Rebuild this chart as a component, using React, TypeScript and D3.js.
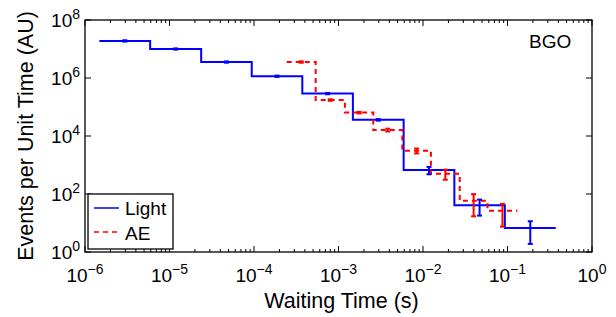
import { useEffect, useRef } from "react";
import * as d3 from "d3";

// bin edges (s) and values
const lightEdges = [1.48e-6, 5.9e-6, 2.37e-5, 9.4e-5, 3.73e-4, 1.48e-3, 5.9e-3, 2.35e-2, 9.3e-2, 0.372];
const lightValues = [1.9e7, 1.0e7, 3.55e6, 1.15e6, 2.9e5, 3.6e4, 670, 41, 6.7];
const lightErrors = [1.0e6, 5e5, 1.8e5, 6e4, 1.5e4, 2.2e3, 190, 23, 4.8];

const aeEdges = [2.44e-4, 5.37e-4, 1.19e-3, 2.58e-3, 5.69e-3, 1.24e-2, 2.72e-2, 5.8e-2, 0.131];
const aeValues = [3.56e6, 1.74e5, 6.4e4, 1.61e4, 3.1e3, 500, 58, 26.5];
const aeErrors = [2e5, 1e4, 4e3, 1.8e3, 600, 190, 41, 19];

const xTickExps = [-6, -5, -4, -3, -2, -1, 0];
const yTickExps = [0, 2, 4, 6, 8];

const FONT = "Liberation Sans, Arial, Helvetica, sans-serif";

export default function App() {
  const ref = useRef(null);

  useEffect(() => {
    const width = 616;
    const height = 317;
    const margin = { top: 20, right: 24, bottom: 65, left: 85 };

    const svg = d3.select(ref.current);
    svg.selectAll("*").remove();
    svg.attr("viewBox", `0 0 ${width} ${height}`);

    const x = d3.scaleLog().domain([1e-6, 1]).range([margin.left, width - margin.right]);
    const y = d3.scaleLog().domain([1, 1e8]).range([height - margin.bottom, margin.top]);

    const x0 = margin.left;
    const x1 = width - margin.right;
    const y0 = height - margin.bottom;
    const y1 = margin.top;

    svg.append("rect").attr("width", width).attr("height", height).attr("fill", "#fff");

    // ticks (inward, on all four sides)
    const ticks = svg.append("g").attr("stroke", "#000").attr("stroke-width", 1);
    const minor: number[] = [];
    for (let e = -6; e < 0; e++) for (let k = 2; k <= 9; k++) minor.push(k * Math.pow(10, e));
    minor.forEach((v) => {
      ticks.append("line").attr("x1", x(v)).attr("x2", x(v)).attr("y1", y0).attr("y2", y0 - 3);
      ticks.append("line").attr("x1", x(v)).attr("x2", x(v)).attr("y1", y1).attr("y2", y1 + 3);
    });
    xTickExps.forEach((e) => {
      const px = x(Math.pow(10, e));
      ticks.append("line").attr("x1", px).attr("x2", px).attr("y1", y0).attr("y2", y0 - 6);
      ticks.append("line").attr("x1", px).attr("x2", px).attr("y1", y1).attr("y2", y1 + 6);
    });
    yTickExps.forEach((e) => {
      const py = y(Math.pow(10, e));
      ticks.append("line").attr("x1", x0).attr("x2", x0 + 6).attr("y1", py).attr("y2", py);
      ticks.append("line").attr("x1", x1).attr("x2", x1 - 6).attr("y1", py).attr("y2", py);
    });

    // tick labels
    const label = (g, px, py, exp, anchor) => {
      const t = g
        .append("text")
        .attr("x", px)
        .attr("y", py)
        .attr("text-anchor", anchor)
        .attr("font-family", FONT)
        .attr("font-size", 19)
        .attr("fill", "#000");
      t.append("tspan").text("10");
      t.append("tspan")
        .attr("dy", -8)
        .attr("font-size", 14)
        .text(exp < 0 ? `\u2212${-exp}` : `${exp}`);
    };
    const labels = svg.append("g");
    xTickExps.forEach((e) => label(labels, x(Math.pow(10, e)), y0 + 30, e, "middle"));
    yTickExps.forEach((e) => label(labels, x0 - 5, y(Math.pow(10, e)) + 7, e, "end"));

    // step lines
    const stairs = (edges, vals) => {
      const pts = vals.map((v, i) => [edges[i], v]);
      pts.push([edges[edges.length - 1], vals[vals.length - 1]]);
      return d3
        .line()
        .x((d) => x(d[0]))
        .y((d) => y(d[1]))
        .curve(d3.curveStepAfter)(pts);
    };

    svg
      .append("path")
      .attr("d", stairs(lightEdges, lightValues))
      .attr("fill", "none")
      .attr("stroke", "#0000ff")
      .attr("stroke-width", 2);

    svg
      .append("path")
      .attr("d", stairs(aeEdges, aeValues))
      .attr("fill", "none")
      .attr("stroke", "#ff0000")
      .attr("stroke-width", 2)
      .attr("stroke-dasharray", "5,4");

    const errorBars = (edges, vals, errs, color) => {
      const g = svg.append("g").attr("stroke", color).attr("stroke-width", 2);
      vals.forEach((v, i) => {
        const cx = x(Math.sqrt(edges[i] * edges[i + 1]));
        const lo = y(v - errs[i]);
        const hi = y(v + errs[i]);
        g.append("line").attr("x1", cx).attr("x2", cx).attr("y1", lo).attr("y2", hi);
        g.append("line").attr("x1", cx - 2.5).attr("x2", cx + 2.5).attr("y1", lo).attr("y2", lo);
        g.append("line").attr("x1", cx - 2.5).attr("x2", cx + 2.5).attr("y1", hi).attr("y2", hi);
      });
    };
    errorBars(lightEdges, lightValues, lightErrors, "#0000ff");
    errorBars(aeEdges, aeValues, aeErrors, "#ff0000");

    // axes box
    svg
      .append("rect")
      .attr("x", x0)
      .attr("y", y1)
      .attr("width", x1 - x0)
      .attr("height", y0 - y1)
      .attr("fill", "none")
      .attr("stroke", "#000")
      .attr("stroke-width", 1.3);

    svg
      .append("text")
      .attr("x", 529)
      .attr("y", 48)
      .attr("font-family", FONT)
      .attr("font-size", 19)
      .text("BGO");

    // legend
    const lg = svg.append("g");
    lg.append("rect")
      .attr("x", 88)
      .attr("y", 194)
      .attr("width", 85)
      .attr("height", 55)
      .attr("fill", "#fff")
      .attr("stroke", "#000")
      .attr("stroke-width", 1.3);
    lg.append("line").attr("x1", 94).attr("x2", 119).attr("y1", 208).attr("y2", 208).attr("stroke", "#0000ff").attr("stroke-width", 1.5);
    lg.append("line")
      .attr("x1", 94)
      .attr("x2", 119)
      .attr("y1", 232)
      .attr("y2", 232)
      .attr("stroke", "#ff0000")
      .attr("stroke-width", 1.5)
      .attr("stroke-dasharray", "5,4");
    lg.append("text").attr("x", 125).attr("y", 215).attr("font-family", FONT).attr("font-size", 19).text("Light");
    lg.append("text").attr("x", 125).attr("y", 240).attr("font-family", FONT).attr("font-size", 19).text("AE");

    // axis titles
    svg
      .append("text")
      .attr("x", (x0 + x1) / 2 + 3)
      .attr("y", 308)
      .attr("text-anchor", "middle")
      .attr("font-family", FONT)
      .attr("font-size", 21.5)
      .text("Waiting Time (s)");

    svg
      .append("text")
      .attr("transform", `translate(33,${(y0 + y1) / 2}) rotate(-90)`)
      .attr("text-anchor", "middle")
      .attr("font-family", FONT)
      .attr("font-size", 21.5)
      .text("Events per Unit Time (AU)");
  }, []);

  return (
    <svg
      ref={ref}
      width={616}
      height={317}
      style={{ position: "absolute", left: 0, top: 0, display: "block" }}
    />
  );
}
